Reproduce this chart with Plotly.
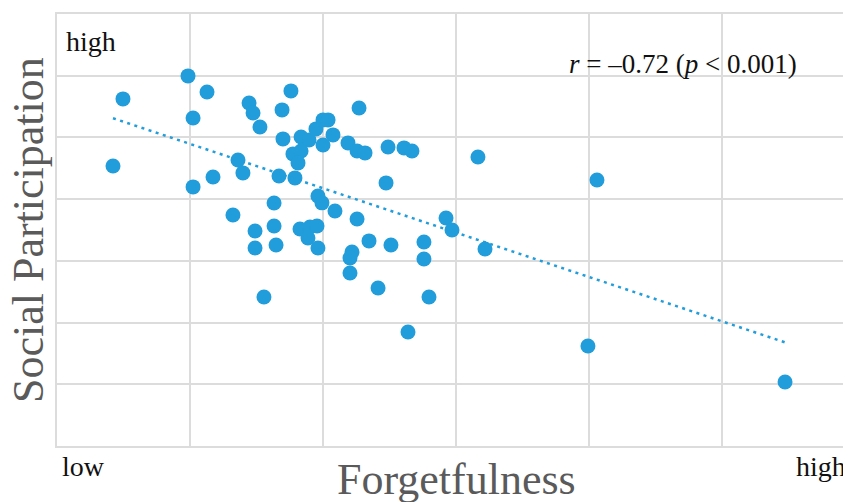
import numpy as np
import plotly.graph_objects as go

# Forgetfulness (x) and Social Participation (y), arbitrary units (grid step = 1)
forgetfulness = [0.421, 0.496, 0.985, 1.128, 1.023, 1.444, 1.474, 1.526, 1.692, 1.759,
                 1.699, 1.835, 1.895, 1.947, 2.000, 2.038, 2.075, 2.000, 1.774, 1.835,
                 1.812, 1.361, 1.398, 1.173, 1.023, 1.669, 1.789, 2.271, 2.188, 2.256,
                 2.316, 2.489, 2.609, 2.669, 3.165, 2.474, 1.962, 1.992, 2.090, 2.256,
                 2.925, 2.970, 1.632, 1.323, 1.489, 1.632, 1.489, 1.647, 1.827, 1.887,
                 1.902, 1.955, 1.962, 2.346, 2.511, 2.759, 2.759, 3.218, 2.218, 2.203,
                 2.203, 2.414, 2.797, 1.556, 2.639, 3.992, 5.474, 4.060]
social_participation = [4.538, 5.624, 5.997, 5.737, 5.316, 5.559, 5.397, 5.170, 5.446, 5.754,
                        4.976, 5.008, 4.959, 5.138, 5.284, 5.284, 5.041, 4.878, 4.733, 4.781,
                        4.587, 4.635, 4.425, 4.360, 4.198, 4.376, 4.344, 5.478, 4.911, 4.781,
                        4.749, 4.846, 4.830, 4.781, 4.684, 4.263, 4.052, 3.940, 3.809, 3.679,
                        3.695, 3.501, 3.938, 3.744, 3.485, 3.566, 3.209, 3.258, 3.517, 3.371,
                        3.549, 3.566, 3.209, 3.323, 3.258, 3.306, 3.031, 3.193, 3.144, 3.047,
                        2.804, 2.561, 2.415, 2.415, 1.848, 1.621, 1.037, 4.311]

stat_label = "<i>r</i> = \u20130.72 (<i>p</i> < 0.001)"
x_title = "Forgetfulness"
y_title = "Social Participation"
low_label = "low"
high_label = "high"

x = np.array(forgetfulness)
y = np.array(social_participation)
slope, intercept = np.polyfit(x, y, 1)
fit_x = np.array([x.min(), x.max()])
fit_y = slope * fit_x + intercept

BLUE = "#219ddb"
GRID = "#dcdcdc"
FONT = "Liberation Serif"

fig = go.Figure()
fig.add_trace(go.Scatter(x=forgetfulness, y=social_participation, mode="markers",
                         marker=dict(size=15, color=BLUE, line=dict(width=0)),
                         showlegend=False, hoverinfo="skip"))
fig.add_trace(go.Scatter(x=fit_x, y=fit_y, mode="lines",
                         line=dict(color=BLUE, width=2.5, dash="3px,4.5px"),
                         showlegend=False, hoverinfo="skip"))

OFF = 8  # page body margin
W, H = 851 - OFF, 502 - OFF
L, R, T, B = 57 - OFF, 0, 14 - OFF, 56
pw, ph = W - L - R, H - T - B

def px(xv):
    return (xv - OFF - L) / pw

def py(yv):
    return (H - B - (yv - OFF)) / ph

ann = [
    dict(text=x_title, x=px(456), y=py(479), xanchor="center", yanchor="middle",
         font=dict(family=FONT, size=44, color="#5a5a5a")),
    dict(text=y_title, x=px(28), y=py(230), xanchor="center", yanchor="middle", textangle=-90,
         font=dict(family=FONT, size=44, color="#5a5a5a")),
    dict(text=low_label, x=px(60), y=py(466), xanchor="left", yanchor="middle",
         font=dict(family=FONT, size=28, color="#111111")),
    dict(text=high_label, x=px(848), y=py(466), xanchor="right", yanchor="middle",
         font=dict(family=FONT, size=28, color="#111111")),
    dict(text=high_label, x=px(64), y=py(42), xanchor="left", yanchor="middle",
         font=dict(family=FONT, size=28, color="#111111")),
    dict(text=stat_label, x=px(567), y=py(64), xanchor="left", yanchor="middle",
         font=dict(family=FONT, size=27, color="#111111")),
]
for a in ann:
    a.update(xref="paper", yref="paper", showarrow=False)

fig.update_layout(
    width=W, height=H,
    margin=dict(l=L, r=R, t=T, b=B, pad=0),
    plot_bgcolor="white", paper_bgcolor="white",
    annotations=ann,
    xaxis=dict(range=[0, pw / 133.0], tick0=0, dtick=1, showticklabels=False, ticks="",
               showgrid=True, gridcolor=GRID, gridwidth=2, zeroline=False,
               showline=True, linecolor=GRID, linewidth=2, mirror=True),
    yaxis=dict(range=[0, 7], tick0=0, dtick=1, showticklabels=False, ticks="",
               showgrid=True, gridcolor=GRID, gridwidth=2, zeroline=False,
               showline=True, linecolor=GRID, linewidth=2),
)

fig.write_html("out.html")
